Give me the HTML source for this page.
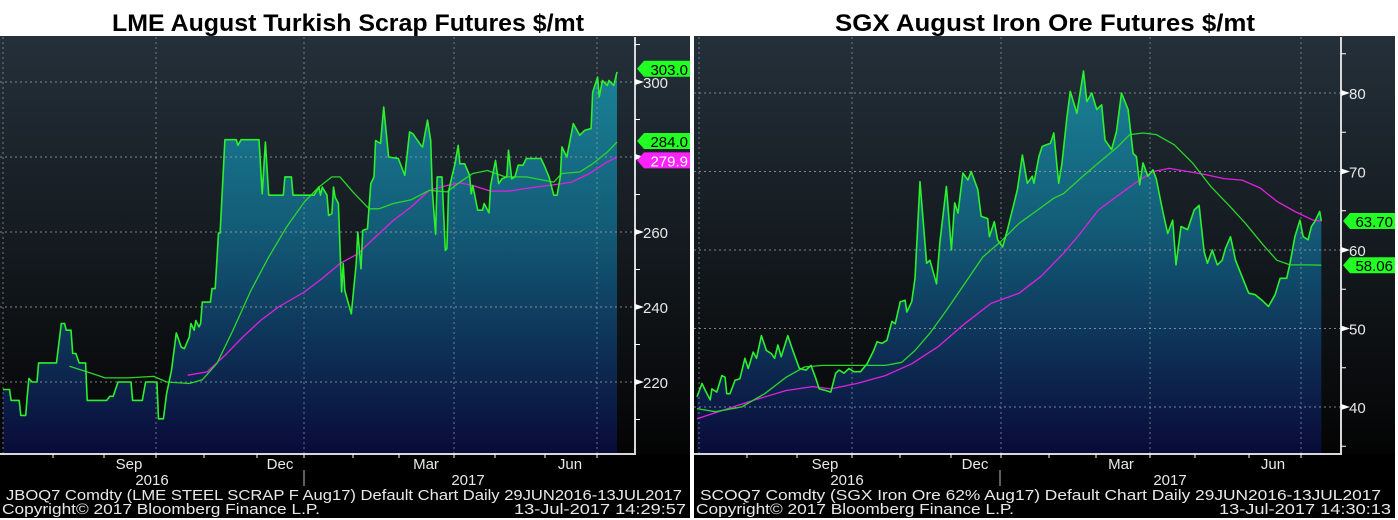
<!DOCTYPE html>
<html><head><meta charset="utf-8">
<style>
html,body{margin:0;padding:0;background:#fff;}
svg{display:block;font-family:"Liberation Sans",sans-serif;}
</style></head>
<body>
<svg id="root" width="1398" height="520" viewBox="0 0 1398 520">
<defs>
<linearGradient id="bgL" gradientUnits="userSpaceOnUse" x1="0" y1="36" x2="0" y2="455"><stop offset="0" stop-color="#24303a"/><stop offset="1" stop-color="#040404"/></linearGradient>
<linearGradient id="fillG" gradientUnits="userSpaceOnUse" x1="0" y1="40" x2="0" y2="455"><stop offset="0" stop-color="#1b8a9c"/><stop offset="0.45" stop-color="#135c78"/><stop offset="1" stop-color="#090a38"/></linearGradient>
</defs>
<g id="left"></g>
<g id="right"></g>
</svg>
<script>
// ---- Left: LME scrap ----
const scrapDays=[0,4,5,10,11,14,15,16,18,21,22,33,36,38,39,42,43,45,47,51,52,64,66,68,71,79,80,86,88,95,96,99,101,104,107,110,112,115,116,118,119,121,122,123,128,129,131,133,134,137,144,145,147,158,160,162,164,173,174,178,179,192,195,196,197,200,201,203,204,205,207,209,210,211,215,218,219,221,222,225,227,229,230,233,235,237,238,244,248,251,253,258,259,262,264,265,267,268,271,273,274,275,277,279,281,282,285,288,289,290,293,296,297,300,301,304,306,308,311,312,314,316,318,321,323,332,334,337,340,342,344,345,348,352,356,359,363,364,367,368,370,373,374,377,379];
const scrapPrice=[218,218,215.1,215.1,211.1,211.1,216.4,220.9,220,220,225.1,225.1,235.6,235.6,233.8,233.8,227.6,227.6,225.1,225.1,215.1,215.1,216.2,216.2,220,220,215.1,215.1,220,220,210.2,210.2,216.9,223.1,233.1,229.3,228.9,232,235.6,233.8,236.4,234.7,235.6,241.3,241.3,244.9,244.9,259.7,259.7,284.6,284.6,283.1,284.6,284.6,270.2,284,269.8,269.8,274.7,274.7,269.8,269.8,272,269.8,272,269.8,264.4,264.9,272,269.3,267.6,244,251.6,244.4,238.2,251.6,260,250.2,260.4,260.9,272.9,274.7,284.4,283.6,293.3,284.4,280,279.6,275.1,286.7,286.2,283.1,282.7,289.8,284.4,271.1,259.4,274.7,274.7,255.1,255.6,270.7,274.7,278.2,283.1,278.2,278.2,275.1,270.2,272.4,265.8,265.8,267.6,265.1,272.4,279.1,272.9,274.2,274.7,281.8,274.2,274.7,277.8,277.8,279.6,279.6,277.8,274.7,269.8,269.8,274.7,282.7,280,288.9,285.8,287.1,287.6,297.3,301.3,296,300.4,299.1,300.4,299.1,302.7];
const scrapMaDays=[41,52,63,77,93,101,115,123,132,142,153,164,175,186,195,203,208,216,226,232,241,252,263,274,282,290,299,310,323,340,345,356,364,373,379];
const scrapMa=[224.2,222.7,221.1,221.1,221.5,220,219.6,220.6,224.9,233.8,244.4,253.3,261.3,268,272,274.7,274.7,270.7,266.2,266.2,267.6,268.6,271.1,270.7,273.3,275.6,276.4,274.7,274.7,273.3,275.6,276,278.2,281.3,284];
const scrapMa2Days=[114,126,137,148,159,170,186,197,208,219,230,241,252,263,274,282,290,301,312,329,342,351,362,373,379];
const scrapMa2=[221.8,222.7,227.1,232,236.4,240,244,247.6,251.6,254.2,258.7,263.1,266.7,271.1,272.4,273.1,272.4,270.9,270.9,272,272.7,273.3,275.6,278.7,279.9];
const scrapTicks=[220,240,260,280,300];
const scrapMinor=[210,230,250,270,290,310];
const scrapLast=["303.0","284.0","279.9"];
// ---- Right: SGX iron ore ----
const oreDays=[0,3,5,8,9,12,15,17,18,20,23,26,29,31,34,36,39,42,45,47,49,51,55,58,62,66,69,72,74,78,81,84,86,89,92,95,99,103,107,109,112,115,118,120,123,126,127,130,132,135,139,141,145,147,151,154,156,158,161,164,166,170,172,176,177,180,182,185,188,192,194,197,200,203,204,207,209,214,216,219,221,224,226,230,234,236,239,242,245,247,251,254,257,261,264,266,268,270,273,276,278,282,285,288,290,293,297,301,304,307,309,312,315,318,320,323,326,330,334,338,342,346,350,353,357,359,362,365,367,370,372,374,377,378];
const orePrice=[41.3,43,42.1,40.9,42.3,41.9,44,43.8,41.7,41.7,43.4,43.6,46.2,44.9,47,46.2,49.1,47.2,46.8,46.2,47.9,46.4,49.1,47.2,44.9,44.7,45.3,43.6,42.3,42.1,41.9,44.3,44.7,44.3,44.9,44.5,44.5,45.5,47.2,48.3,48.1,48.5,50.9,50.6,53.4,53.6,52.1,53.4,56.4,68.7,58.3,58.7,55.7,60.9,68.1,60,66,64.7,69.8,68.9,70,67.7,64.3,64,61.7,63.6,61.3,60.4,62.6,66,67.7,72.1,68.5,69.4,68.5,71.9,73.2,73.6,74.9,68.5,71.1,77,80.2,77.4,82.8,78.9,80,77.9,78.5,74,72.8,75.1,80,77.9,72.3,71.9,68.3,71.1,69.4,70.2,69.1,64.9,62.1,63.8,58.1,63,62.6,65.1,65.7,59.8,58.3,60,58.1,58.7,60.2,61.7,58.7,56.6,54.5,54.3,53.6,52.8,54.3,56.4,56.4,58.3,61.7,63.8,61.7,61.3,63,63.6,64.9,63.7];
const oreMaDays=[0,11,27,41,54,65,76,92,114,124,132,141,151,162,173,184,195,205,216,222,232,243,254,262,270,278,289,300,311,322,332,343,351,359,370,378];
const oreMa=[39.8,39.4,40,41.7,43.8,45.1,45.3,45.3,45.3,45.7,47.2,49.4,52.3,55.7,59.1,61.1,63.4,64.9,66.6,67.2,69.1,71.1,73,74.7,74.9,74.7,73.4,71.1,68.1,65.7,63.4,60.6,58.7,58.1,58.1,58.06];
const oreMa2Days=[0,16,35,54,70,81,97,114,130,146,162,178,195,208,222,232,243,254,265,276,286,297,308,319,330,341,351,362,373,378];
const oreMa2=[38.5,39.6,40.9,42.1,42.6,42.3,43,44,45.5,47.7,50.6,53.2,54.5,56.6,59.6,62.1,65.1,66.8,68.5,70,70.4,70,69.6,69.1,68.9,67.9,66.2,64.9,63.8,63.7];
const oreTicks=[40,50,60,70,80];
const oreMinor=[35,45,55,65,75,85];
const oreLast=["63.70","58.06"];

const NS="http://www.w3.org/2000/svg";
function mk(parent,tag,attrs,txt){const e=document.createElementNS(NS,tag);for(const k in attrs)e.setAttribute(k,attrs[k]);if(txt!==undefined)e.textContent=txt;parent.appendChild(e);return e;}

function drawChart(g,cfg){
  const {px0,pw,axisX,top,bottom,dataW,refV,refY,pxPerUnit}=cfg;
  const X=d=>px0+d*dataW/379;
  const Y=v=>refY-(v-refV)*pxPerUnit;
  let e;
  e=mk(g,'rect',{x:px0-3,y:36,width:pw,height:482,fill:'#000'});
  
  e=mk(g,'rect',{x:px0-3,y:36,width:pw,height:bottom-36,fill:'url(#bgL)'});
  
  e=mk(g,'text',{x:cfg.titleX,y:31,'font-size':24,'font-weight':'bold',fill:'#000','text-anchor':'middle',textLength:cfg.titleW,lengthAdjust:'spacingAndGlyphs'},cfg.title);
  
  let d='M'+X(cfg.days[0])+','+bottom;
  cfg.days.forEach((dd,i)=>{d+=' L'+X(dd).toFixed(1)+','+Y(cfg.price[i]).toFixed(1);});
  d+=' L'+X(cfg.days[cfg.days.length-1])+','+bottom+' Z';
  e=mk(g,'path',{d:d,fill:'url(#fillG)'});
  
  cfg.ticks.forEach(t=>{e=mk(g,'line',{x1:px0-3,x2:axisX,y1:Y(t),y2:Y(t),stroke:'#9aa0a6','stroke-width':1,'stroke-dasharray':'2,3',opacity:0.8});
    });
  cfg.vgrid.forEach(vx=>{e=mk(g,'line',{x1:vx,x2:vx,y1:37,y2:bottom,stroke:'#9aa0a6','stroke-width':1,'stroke-dasharray':'2,3',opacity:0.7});
    });
  const line=(days,vals,col,w,name)=>{let p='';days.forEach((dd,i)=>{p+=(i?' L':'M')+X(dd).toFixed(1)+','+Y(vals[i]).toFixed(1);});
    const el=mk(g,'path',{d:p,fill:'none',stroke:col,'stroke-width':w,'stroke-linejoin':'round'});
    };
  line(cfg.ma2Days,cfg.ma2,'#e020e0',1.3,'ma-long-line');
  line(cfg.maDays,cfg.ma,'#2ad62a',1.3,'ma-short-line');
  line(cfg.days,cfg.price,'#2cf02c',1.6,'price-line');
  e=mk(g,'line',{x1:axisX,x2:axisX,y1:37,y2:bottom,stroke:'#d8d8d8','stroke-width':2});
  
  e=mk(g,'line',{x1:px0-3,x2:axisX+1,y1:bottom,y2:bottom,stroke:'#d8d8d8','stroke-width':2});
  
  cfg.ticks.forEach(t=>{e=mk(g,'path',{d:`M${axisX},${Y(t)-3} L${axisX+9},${Y(t)} L${axisX},${Y(t)+3}Z`,fill:'#fff'});
    
    e=mk(g,'text',{x:axisX+8,y:Y(t)+6,'font-size':15,fill:'#e8e8e8'},String(t));
    });
  cfg.minor.forEach(t=>{if(Y(t)<38||Y(t)>bottom-2)return;e=mk(g,'line',{x1:axisX,x2:axisX+5,y1:Y(t),y2:Y(t),stroke:'#fff','stroke-width':1});
    });
  cfg.xticks.forEach(vx=>{e=mk(g,'line',{x1:vx,x2:vx,y1:bottom,y2:bottom+4,stroke:'#fff','stroke-width':1});
    });
  cfg.months.forEach(m=>{e=mk(g,'text',{x:m[1],y:469,'font-size':15,fill:'#e8e8e8','text-anchor':'middle'},m[0]);
    });
  cfg.years.forEach(m=>{e=mk(g,'text',{x:m[1],y:485,'font-size':15,fill:'#e8e8e8','text-anchor':'middle'},m[0]);
    });
  e=mk(g,'line',{x1:cfg.yearSep,x2:cfg.yearSep,y1:470,y2:486,stroke:'#bbb','stroke-width':1});
  
  e=mk(g,'text',{x:px0+3,y:500,'font-size':15,fill:'#e8e8e8',textLength:cfg.infoW,lengthAdjust:'spacingAndGlyphs'},cfg.info);
  
  e=mk(g,'text',{x:px0-1,y:514,'font-size':15,fill:'#e8e8e8',textLength:318,lengthAdjust:'spacingAndGlyphs'},'Copyright\u00a9 2017 Bloomberg Finance L.P.');
  
  e=mk(g,'text',{x:px0-3+pw-4,y:514,'font-size':15,fill:'#e8e8e8','text-anchor':'end',textLength:172,lengthAdjust:'spacingAndGlyphs'},cfg.stamp);
  
  cfg.flags.forEach(f=>{const y=Y(f.v)+(f.dy||0);const x0=axisX+2,x1=px0-3+pw;
    e=mk(g,'path',{d:`M${x0},${y} L${x0+7},${y-8} L${x1},${y-8} L${x1},${y+8} L${x0+7},${y+8}Z`,fill:f.c});
    
    e=mk(g,'text',{x:x1-2,y:y+6,'font-size':15,fill:f.tc,'text-anchor':'end'},f.t);
    });
}

drawChart(document.getElementById('left'),{
  px0:3,pw:690,axisX:635,top:37,bottom:454,dataW:614,refV:220,refY:382,pxPerUnit:3.75,
  title:'LME August Turkish Scrap Futures $/mt',titleX:348,titleW:472,
  days:scrapDays,price:scrapPrice,maDays:scrapMaDays,ma:scrapMa,ma2Days:scrapMa2Days,ma2:scrapMa2,
  ticks:scrapTicks,minor:scrapMinor,vgrid:[3,156,304,454,597],
  xticks:[53,104,156,204,257,304,353,399,454,495,545,597],
  months:[['Sep',129],['Dec',280],['Mar',426],['Jun',570]],years:[['2016',152],['2017',468]],yearSep:304,
  info:'JBOQ7 Comdty (LME STEEL SCRAP F Aug17) Default Chart  Daily 29JUN2016-13JUL2017',infoW:676,
  stamp:'13-Jul-2017 14:29:57',
  flags:[{v:303,t:scrapLast[0],c:'#22ff22',tc:'#000',dy:-2},{v:284,t:scrapLast[1],c:'#22ff22',tc:'#000',dy:-1},{v:279.9,t:scrapLast[2],c:'#ff22ff',tc:'#fff',dy:3}]
});
drawChart(document.getElementById('right'),{
  px0:697,pw:701,axisX:1341,top:37,bottom:454,dataW:626,refV:40,refY:407,pxPerUnit:7.85,
  title:'SGX August Iron Ore Futures $/mt',titleX:1045,titleW:420,
  days:oreDays,price:orePrice,maDays:oreMaDays,ma:oreMa,ma2Days:oreMa2Days,ma2:oreMa2,
  ticks:oreTicks,minor:oreMinor,vgrid:[699,852,1001,1150,1301],
  xticks:[747,797,852,900,951,1001,1049,1096,1150,1195,1249,1301],
  months:[['Sep',825],['Dec',975],['Mar',1121],['Jun',1273]],years:[['2016',847],['2017',1170]],yearSep:1000,
  info:'SCOQ7 Comdty (SGX Iron Ore 62%  Aug17) Default Chart  Daily 29JUN2016-13JUL2017',infoW:681,
  stamp:'13-Jul-2017 14:30:13',
  flags:[{v:63.7,t:oreLast[0],c:'#22ff22',tc:'#000',dy:0},{v:58.06,t:oreLast[1],c:'#22ff22',tc:'#000',dy:0}]
});
</script>
</body></html>
